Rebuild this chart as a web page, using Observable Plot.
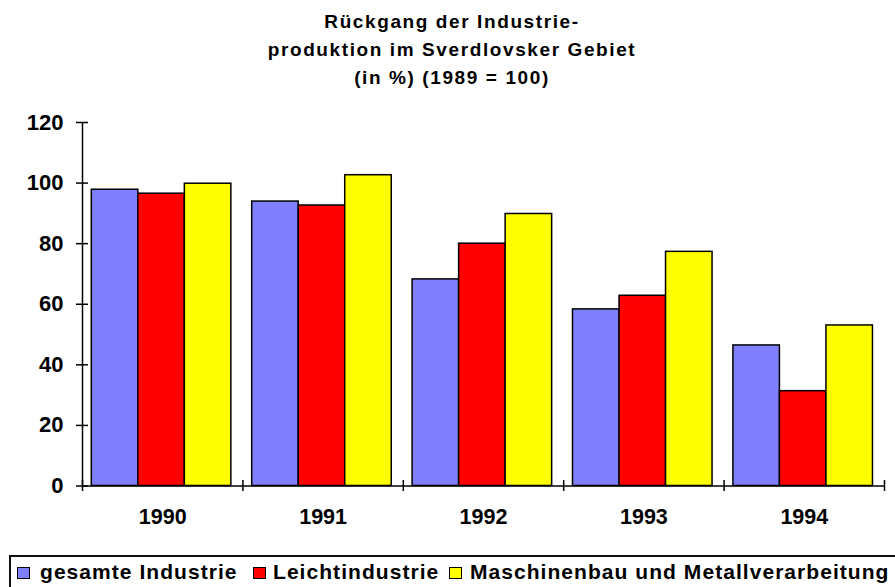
<!DOCTYPE html>
<html>
<head>
<meta charset="utf-8">
<script src="https://cdn.jsdelivr.net/npm/d3@7"></script>
<script src="https://cdn.jsdelivr.net/npm/@observablehq/plot@0.6"></script>
<style>
  html, body { margin: 0; padding: 0; background: white; overflow: hidden; }
  #wrap { position: relative; width: 895px; height: 587px; overflow: hidden; font-family: Arial, "Liberation Sans", sans-serif; }
  #title { position: absolute; top: 8px; left: 0; width: 904px; text-align: center; font-weight: bold; font-size: 19px; line-height: 28px; letter-spacing: 1.6px; color: #000; z-index: 2; }
  #chart { position: absolute; top: 0; left: 0; }
  #legend { position: absolute; left: 9px; top: 555px; width: 900px; height: 60px; border: 2px solid #111; box-sizing: border-box; }
  .sw { position: absolute; width: 13px; height: 12px; border: 1.5px solid #000; box-sizing: border-box; top: 567px; }
  .lt { position: absolute; top: 561px; font-weight: bold; font-size: 21px; line-height: 21px; letter-spacing: 1.05px; white-space: nowrap; color: #000; }
</style>
</head>
<body>
<div id="wrap">
  <div id="title"></div>
  <div id="chart"></div>
  <div id="legend"></div>
</div>
<script>
const titleLines = ["Rückgang der Industrie-", "produktion im Sverdlovsker Gebiet", "(in %) (1989 = 100)"];
const years = ["1990", "1991", "1992", "1993", "1994"];
const series = ["gesamte Industrie", "Leichtindustrie", "Maschinenbau und Metallverarbeitung"];
const gesamtIndustrie = [97.8, 93.9, 68.2, 58.3, 46.4];
const leichtindustrie = [96.5, 92.6, 80.0, 62.8, 31.3];
const maschinenbau = [99.8, 102.6, 89.8, 77.3, 53.0];
const colors = ["#8080ff", "#ff0000", "#ffff00"];
const yTicks = [0, 20, 40, 60, 80, 100, 120];

const seriesValues = [gesamtIndustrie, leichtindustrie, maschinenbau];
const groupPad = 0.058, barW = 0.29;
const rows = [];
years.forEach((year, i) => {
  series.forEach((s, j) => {
    rows.push({year, series: s, value: seriesValues[j][i], x1: i + groupPad + j * barW, x2: i + groupPad + (j + 1) * barW});
  });
});

document.getElementById("title").innerHTML = titleLines.map(t => `<div>${t}</div>`).join("");

const font = 'Arial, "Liberation Sans", sans-serif';
const plot = Plot.plot({
  width: 895,
  height: 545,
  marginLeft: 82,
  marginRight: 11,
  marginTop: 122,
  marginBottom: 59.5,
  style: {fontFamily: font, fontSize: "20px", fontWeight: "bold", background: "transparent", color: "#000"},
  x: {domain: [0, years.length], axis: null},
  y: {domain: [0, 120], axis: null},
  color: {domain: series, range: colors},
  marks: [
    Plot.rectY(rows, {x1: "x1", x2: "x2", y: "value", fill: "series", stroke: "#000", strokeWidth: 1.5}),
    Plot.ruleY([0], {stroke: "#000", strokeWidth: 1.5}),
    Plot.ruleX([0], {stroke: "#000", strokeWidth: 1.5}),
    Plot.axisY({ticks: yTicks, label: null, tickSize: 12, dx: 6, tickPadding: 13, strokeWidth: 1.5, fontSize: 22, fontWeight: "bold", fill: "#000"}),
    Plot.axisX({ticks: d3.range(years.length + 1), label: null, tickFormat: () => "", tickSize: 11, dy: -5.5, strokeWidth: 1.5}),
    Plot.axisX({ticks: years.map((d, i) => i + 0.5), label: null, tickFormat: d => years[Math.floor(d)], tickSize: 0, tickPadding: 23, fontSize: 21.5, fontWeight: "bold", fill: "#000"})
  ]
});
document.getElementById("chart").appendChild(plot);

const legendPos = [[17, 40], [253, 273], [449, 470]];
const wrap = document.getElementById("wrap");
series.forEach((s, i) => {
  const sw = document.createElement("div");
  sw.className = "sw";
  sw.style.left = legendPos[i][0] + "px";
  sw.style.background = colors[i];
  wrap.appendChild(sw);
  const t = document.createElement("div");
  t.className = "lt";
  t.style.left = legendPos[i][1] + "px";
  t.textContent = s;
  wrap.appendChild(t);
});
</script>
</body>
</html>
